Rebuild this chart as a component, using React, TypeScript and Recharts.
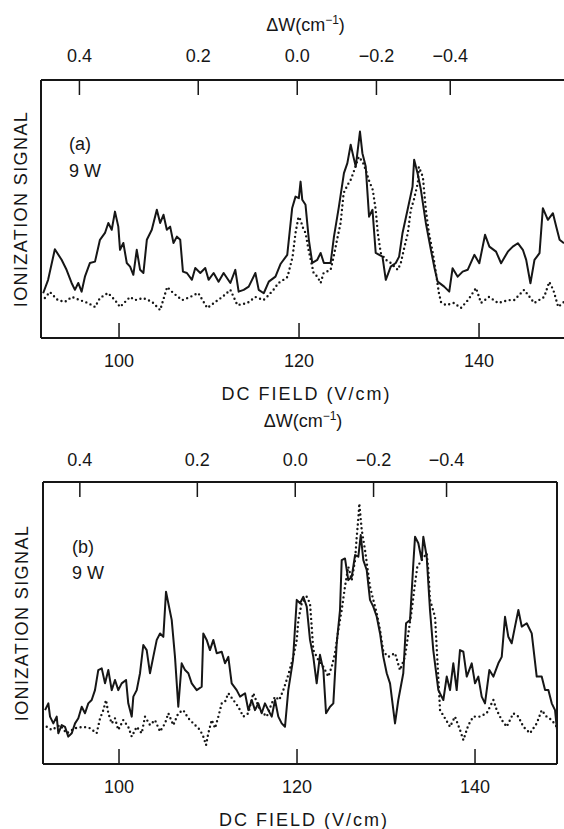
import { ComposedChart, Line, XAxis, YAxis, ReferenceLine } from 'recharts';

const INK = '#161616';
const FONT = '"Liberation Sans", Arial, Helvetica, sans-serif';

// bottom axis (DC field, V/cm)
const fieldTicks = [100, 120, 140];
// top axis: field values at which the ΔW ticks fall, and their labels
const dwTickFields = [95.6, 108.8, 119.8, 128.6, 136.8];
const dwLabels = ['0.4', '0.2', '0.0', '−0.2', '−0.4'];

// [field (V/cm), signal (arb.)]
const solidA = [
  [91.57, 17.0], [92.12, 22.1], [92.87, 33.7], [93.62, 29.7], [94.17, 25.9], [94.73, 20.9], [95.1, 18.3],
  [95.47, 20.9], [95.84, 17.6], [96.21, 23.3], [96.77, 28.5], [97.33, 29.0], [97.88, 37.3], [98.44, 39.9],
  [98.81, 43.7], [99.19, 41.1], [99.55, 48.0], [99.92, 42.3], [100.11, 33.5], [100.48, 36.1], [100.86, 28.5],
  [101.23, 27.1], [101.59, 24.0], [101.97, 33.5], [102.34, 25.9], [102.71, 24.7], [103.09, 37.3], [103.64, 41.1],
  [104.2, 48.7], [104.57, 43.7], [104.94, 46.8], [105.31, 41.1], [105.68, 42.3], [106.05, 36.1], [106.43, 38.5],
  [106.8, 37.3], [107.1, 25.2], [107.54, 24.7], [108.1, 22.1], [108.47, 26.6], [109.03, 24.7], [109.58, 26.6],
  [109.95, 22.1], [110.51, 24.7], [111.06, 21.4], [111.62, 24.7], [112.37, 20.9], [112.92, 25.9], [113.29, 17.6],
  [113.85, 18.3], [114.41, 19.5], [115.15, 24.7], [115.52, 18.3], [116.08, 17.0], [116.64, 21.4], [117.38, 23.3],
  [117.94, 28.1], [118.69, 31.6], [119.24, 49.4], [119.61, 53.7], [119.98, 53.1], [120.17, 59.4], [120.36, 52.5],
  [120.72, 50.6], [121.09, 37.3], [121.47, 28.5], [122.03, 29.7], [122.4, 32.3], [122.76, 28.5], [123.51, 28.5],
  [123.88, 38.5], [124.43, 49.9], [124.99, 62.6], [125.37, 66.4], [125.74, 73.4], [126.04, 68.9], [126.3, 65.1],
  [126.77, 78.4], [127.04, 70.2], [127.41, 65.1], [127.78, 46.1], [128.16, 48.7], [128.52, 32.3], [129.27, 30.9],
  [129.64, 22.1], [130.19, 27.1], [130.75, 28.5], [131.12, 30.9], [131.5, 39.9], [132.06, 48.7], [132.61, 57.5],
  [132.79, 67.7], [133.17, 62.6], [133.54, 56.3], [134.09, 43.7], [134.65, 33.5], [135.02, 27.1], [135.4, 21.4],
  [136.13, 19.5], [136.69, 17.6], [137.06, 26.5], [137.63, 23.3], [138.18, 25.2], [138.74, 25.9], [139.48, 31.6],
  [140.03, 28.4], [140.67, 39.2], [141.15, 34.7], [141.89, 32.8], [142.45, 28.4], [143.2, 32.8], [143.75, 34.7],
  [144.31, 36.0], [144.87, 33.5], [145.24, 29.7], [145.71, 20.8], [146.16, 29.7], [146.72, 32.2], [147.09, 49.3],
  [147.65, 44.9], [148.21, 47.4], [148.58, 42.3], [148.95, 37.3], [149.44, 36.0],
];

const dotA = [
  [91.76, 15.2], [92.31, 17.5], [93.2, 14.4], [93.98, 13.7], [94.76, 15.6], [95.65, 14.4], [96.55, 13.3],
  [97.33, 11.8], [97.88, 15.2], [98.77, 17.1], [99.55, 14.4], [100.11, 11.8], [101.23, 15.6], [101.78, 14.4],
  [102.67, 15.2], [103.68, 13.7], [104.57, 10.6], [105.35, 19.4], [106.02, 17.1], [107.02, 14.4], [107.91, 15.6],
  [108.8, 17.1], [109.81, 11.4], [110.7, 13.7], [111.48, 15.6], [112.37, 18.3], [113.15, 12.5], [114.26, 13.3],
  [115.15, 15.6], [116.04, 14.4], [116.46, 15.7], [117.16, 18.3], [117.72, 20.9], [118.27, 22.1], [118.72, 23.2],
  [119.28, 30.8], [119.61, 39.9], [119.94, 46.0], [120.17, 44.9], [120.39, 42.2], [120.72, 39.9], [121.06, 33.5],
  [121.62, 24.7], [122.06, 23.2], [122.4, 20.9], [122.73, 24.7], [123.51, 25.9], [123.84, 30.8], [124.29, 38.4],
  [124.62, 43.7], [124.96, 55.1], [125.4, 58.2], [125.74, 60.1], [126.07, 63.1], [126.63, 68.8], [127.07, 66.9],
  [127.41, 63.9], [127.74, 60.1], [128.19, 56.3], [128.52, 48.7], [128.75, 39.9], [129.08, 32.3], [129.64, 29.7],
  [130.19, 28.5], [130.97, 25.9], [131.31, 28.5], [131.64, 33.5], [132.09, 39.9], [132.42, 48.7], [132.76, 52.5],
  [133.2, 58.9], [133.31, 65.0], [133.76, 61.2], [134.09, 48.7], [134.43, 39.9], [134.87, 32.3], [135.21, 24.7],
  [135.54, 17.1], [135.77, 13.7], [136.32, 12.5], [137.21, 13.3], [137.99, 11.4], [138.77, 14.4], [139.67, 19.0],
  [140.22, 13.3], [141.11, 15.6], [142.12, 13.3], [143.23, 14.4], [143.9, 14.4], [145.01, 18.3], [146.13, 13.3],
  [147.24, 15.6], [147.8, 21.3], [148.25, 18.3], [148.8, 11.8], [149.44, 13.7],
];

const solidB = [
  [91.69, 19.1], [92.06, 21.5], [92.25, 16.8], [92.62, 14.4], [93.0, 16.8], [93.18, 10.9], [93.56, 13.8],
  [93.93, 13.2], [94.3, 9.7], [94.69, 10.9], [95.06, 14.4], [95.43, 16.2], [95.81, 20.3], [96.18, 18.0],
  [96.55, 21.5], [96.93, 22.7], [97.3, 26.2], [97.67, 33.3], [98.06, 33.9], [98.43, 28.6], [98.8, 33.3],
  [99.18, 26.2], [99.55, 29.8], [99.92, 26.2], [100.3, 28.6], [100.79, 29.8], [101.04, 21.5], [101.43, 16.8],
  [101.61, 23.9], [101.99, 26.2], [102.36, 32.2], [102.73, 42.2], [103.11, 40.4], [103.48, 32.2], [103.85, 38.0],
  [104.24, 44.0], [104.61, 46.3], [104.98, 45.1], [105.28, 61.1], [105.54, 57.0], [105.92, 51.1], [106.29, 38.0],
  [106.66, 20.3], [107.04, 35.7], [107.42, 33.3], [107.79, 32.2], [108.17, 28.6], [108.73, 26.2], [109.29, 27.4],
  [109.47, 46.3], [109.85, 44.0], [110.22, 40.4], [110.6, 44.0], [110.98, 39.3], [111.54, 39.8], [111.91, 35.7],
  [112.28, 38.0], [112.66, 28.6], [113.22, 26.2], [113.6, 23.9], [114.16, 25.1], [114.53, 19.1], [114.91, 22.7],
  [115.28, 19.1], [115.65, 21.5], [116.03, 18.0], [116.4, 21.5], [116.78, 19.1], [117.16, 16.8], [117.53, 22.7],
  [117.9, 16.8], [118.28, 14.4], [118.65, 13.2], [119.02, 26.2], [119.55, 36.9], [119.97, 58.2], [120.34, 57.0],
  [120.71, 59.3], [121.09, 55.8], [121.46, 44.0], [121.83, 38.0], [122.21, 28.6], [122.58, 38.7], [122.96, 33.3],
  [123.26, 18.0], [123.71, 20.3], [124.08, 21.5], [124.46, 42.8], [124.83, 54.6], [125.02, 72.3], [125.39, 72.9],
  [125.76, 65.2], [126.15, 66.4], [126.52, 74.1], [126.89, 73.5], [127.16, 81.2], [127.45, 72.3], [127.83, 68.8],
  [128.2, 58.2], [128.57, 55.8], [128.96, 52.2], [129.33, 46.3], [129.7, 38.0], [130.08, 32.2], [130.45, 28.6],
  [131.01, 14.4], [131.38, 22.7], [131.94, 32.2], [132.25, 49.9], [132.7, 51.1], [133.07, 71.2], [133.26, 80.6],
  [133.63, 78.3], [134.01, 72.3], [134.19, 80.6], [134.57, 73.5], [134.94, 54.6], [135.31, 40.4], [135.88, 26.2],
  [136.44, 22.7], [136.82, 31.0], [137.19, 26.2], [137.56, 35.7], [137.94, 26.2], [138.31, 40.4], [138.69, 39.8],
  [139.07, 31.0], [139.63, 35.7], [140.0, 28.6], [140.37, 31.0], [140.75, 23.9], [141.12, 21.5], [141.61, 33.3],
  [142.06, 31.0], [142.62, 35.7], [143.0, 38.0], [143.37, 52.2], [143.74, 45.1], [144.12, 42.8], [144.49, 48.7],
  [144.87, 54.6], [145.25, 48.7], [145.81, 49.9], [146.37, 46.3], [146.93, 31.0], [147.49, 31.0], [147.87, 26.2],
  [148.24, 26.2], [148.62, 21.5], [148.99, 19.1], [149.21, 12.1],
];

const dotB = [
  [91.88, 13.2], [92.44, 12.1], [93.37, 13.8], [94.12, 10.9], [95.06, 12.7], [95.99, 13.2], [96.74, 12.7],
  [97.49, 10.9], [97.87, 16.2], [98.24, 19.1], [98.54, 22.7], [98.8, 18.0], [99.18, 14.4], [99.55, 16.2],
  [99.92, 12.1], [100.48, 15.6], [101.04, 13.2], [101.43, 9.7], [101.99, 13.2], [102.55, 10.9], [102.92, 16.8],
  [103.48, 13.8], [104.04, 15.6], [104.61, 11.5], [105.17, 14.4], [105.54, 18.0], [106.1, 13.8], [106.66, 18.0],
  [107.22, 19.1], [107.79, 16.2], [108.35, 14.4], [109.1, 12.1], [109.47, 9.7], [109.78, 6.7], [110.03, 10.9],
  [110.42, 15.6], [110.79, 12.7], [111.16, 16.8], [111.54, 21.5], [111.91, 22.1], [112.28, 25.1], [112.84, 22.7],
  [113.4, 20.3], [113.97, 16.8], [114.53, 18.0], [115.09, 25.1], [115.84, 19.1], [116.6, 16.8], [117.16, 21.5],
  [117.53, 23.9], [118.01, 22.7], [118.46, 26.2], [119.02, 31.6], [119.58, 38.0], [119.97, 44.0], [120.15, 51.1],
  [120.53, 57.0], [121.09, 59.3], [121.46, 57.0], [121.65, 48.7], [121.83, 40.4], [122.39, 36.9], [122.96, 34.5],
  [123.52, 31.0], [123.9, 34.5], [124.27, 39.3], [124.64, 47.5], [125.02, 54.6], [125.39, 62.9], [125.76, 70.0],
  [126.15, 65.2], [126.52, 72.3], [126.71, 80.6], [126.89, 87.1], [127.0, 92.4], [127.27, 83.0], [127.64, 75.9],
  [128.2, 62.9], [128.57, 58.2], [128.96, 53.4], [129.33, 47.5], [129.7, 39.8], [130.26, 38.0], [131.01, 39.3],
  [131.57, 33.3], [132.13, 38.0], [132.51, 46.3], [132.89, 54.6], [133.26, 64.1], [133.52, 70.0], [134.01, 72.3],
  [134.57, 74.7], [134.75, 68.8], [134.94, 58.2], [135.51, 52.2], [136.07, 19.1], [136.63, 16.2], [137.19, 13.2],
  [137.75, 16.8], [138.31, 12.1], [138.69, 8.5], [139.25, 13.8], [139.81, 16.8], [140.56, 16.8], [141.31, 18.0],
  [142.06, 22.7], [142.44, 19.1], [143.0, 15.6], [143.56, 13.2], [144.3, 18.0], [144.87, 16.8], [145.43, 13.2],
  [146.18, 10.9], [146.93, 14.4], [147.49, 19.1], [148.04, 16.8], [148.62, 15.6], [149.18, 13.2],
];

const toRows = (pts: number[][]) => pts.map(([f, s]) => ({ f, s }));

const TICK_LEN = 15;
const textStyle = { fontFamily: FONT, fontSize: 18, fill: INK };

const makeTopTick = (gap: number) => (props: any) => {
  const { x, y, payload } = props;
  const i = dwTickFields.indexOf(payload.value);
  return (
    <g>
      <line x1={x} x2={x} y1={y} y2={y + TICK_LEN} stroke={INK} strokeWidth={1.5} />
      <text x={x} y={y - gap} textAnchor="middle" {...textStyle}>
        {dwLabels[i]}
      </text>
    </g>
  );
};

const BottomTick = (props: any) => {
  const { x, y, payload } = props;
  return (
    <g>
      <line x1={x} x2={x} y1={y} y2={y - TICK_LEN} stroke={INK} strokeWidth={1.5} />
      <text x={x} y={y + 29} textAnchor="middle" {...textStyle}>
        {payload.value}
      </text>
    </g>
  );
};

const makeDwTitle = (gap: number) => (props: any) => {
  const vb = props.viewBox;
  return (
    <text x={vb.x + vb.width / 2 + 3} y={vb.y + vb.height - gap} textAnchor="middle" {...textStyle}>
      ΔW(cm
      <tspan fontSize={12} dy={-7}>
        −1
      </tspan>
      <tspan dy={7}>)</tspan>
    </text>
  );
};

const fieldTitle = (props: any) => {
  const vb = props.viewBox;
  return (
    <text x={vb.x + vb.width / 2 + 4} y={vb.y + 62} textAnchor="middle" letterSpacing={2} {...textStyle}>
      DC FIELD (V/cm)
    </text>
  );
};

const signalTitle = (props: any) => {
  const vb = props.viewBox;
  const cx = vb.x + vb.width / 2;
  const cy = vb.y + vb.height / 2;
  return (
    <text
      x={cx}
      y={cy}
      transform={`rotate(-90 ${cx} ${cy})`}
      textAnchor="middle"
      dominantBaseline="central"
      letterSpacing={1.4}
      {...textStyle}
    >
      IONIZATION SIGNAL
    </text>
  );
};

type PanelProps = {
  solid: number[][];
  dots: number[][];
  domain: [number, number];
  yMax: number;
  height: number;
  topH: number;
  bottomH: number;
  leftW: number;
  rightM: number;
  tickGap: number;
  titleGap: number;
  closed: boolean;
};

function Panel(p: PanelProps) {
  const axisLine = { stroke: INK, strokeWidth: 2 };
  return (
    <ComposedChart width={564} height={p.height} margin={{ top: 0, right: p.rightM, bottom: 0, left: 0 }}>
      <XAxis
        xAxisId="top"
        orientation="top"
        type="number"
        dataKey="f"
        domain={p.domain}
        allowDataOverflow
        ticks={dwTickFields}
        interval={0}
        height={p.topH}
        tickSize={0}
        tickMargin={0}
        tick={makeTopTick(p.tickGap)}
        axisLine={axisLine}
        label={makeDwTitle(p.titleGap)}
      />
      <XAxis
        xAxisId="bottom"
        type="number"
        dataKey="f"
        domain={p.domain}
        allowDataOverflow
        ticks={fieldTicks}
        interval={0}
        height={p.bottomH}
        tickSize={0}
        tickMargin={0}
        tick={BottomTick}
        axisLine={axisLine}
        label={fieldTitle}
      />
      <YAxis
        type="number"
        domain={[0, p.yMax]}
        allowDataOverflow
        width={p.leftW}
        tick={false}
        tickLine={false}
        axisLine={axisLine}
        label={signalTitle}
      />
      {p.closed && (
        <ReferenceLine xAxisId="bottom" x={p.domain[1]} stroke={INK} strokeWidth={2} ifOverflow="visible" />
      )}
      <Line
        xAxisId="top"
        data={toRows(p.dots)}
        dataKey="s"
        type="linear"
        stroke={INK}
        strokeWidth={2.4}
        strokeDasharray="0 4.6"
        strokeLinecap="round"
        dot={false}
        activeDot={false}
        isAnimationActive={false}
      />
      <Line
        xAxisId="bottom"
        data={toRows(p.solid)}
        dataKey="s"
        type="linear"
        stroke={INK}
        strokeWidth={2}
        strokeLinejoin="round"
        dot={false}
        activeDot={false}
        isAnimationActive={false}
      />
    </ComposedChart>
  );
}

const tagStyle = { position: 'absolute' as const, fontFamily: FONT, fontSize: 18, lineHeight: '18px', color: INK };

export default function App() {
  return (
    <div style={{ position: 'absolute', left: 0, top: 0, width: 564, height: 829, background: '#fff', overflow: 'hidden' }}>
      <div style={{ position: 'absolute', left: 0, top: 0 }}>
        <Panel
          solid={solidA}
          dots={dotA}
          domain={[91.33, 149.44]}
          yMax={98}
          height={410}
          topH={80}
          bottomH={72}
          leftW={41}
          rightM={0}
          tickGap={18}
          titleGap={49}
          closed={false}
        />
      </div>
      <div style={{ position: 'absolute', left: 0, top: 410 }}>
        <Panel
          solid={solidB}
          dots={dotB}
          domain={[91.46, 149.21]}
          yMax={100}
          height={419}
          topH={72}
          bottomH={65}
          leftW={43}
          rightM={7}
          tickGap={16}
          titleGap={55}
          closed
        />
      </div>
      <div style={{ ...tagStyle, left: 69, top: 135 }}>(a)</div>
      <div style={{ ...tagStyle, left: 69, top: 162 }}>9 W</div>
      <div style={{ ...tagStyle, left: 72, top: 538 }}>(b)</div>
      <div style={{ ...tagStyle, left: 72, top: 564 }}>9 W</div>
    </div>
  );
}
